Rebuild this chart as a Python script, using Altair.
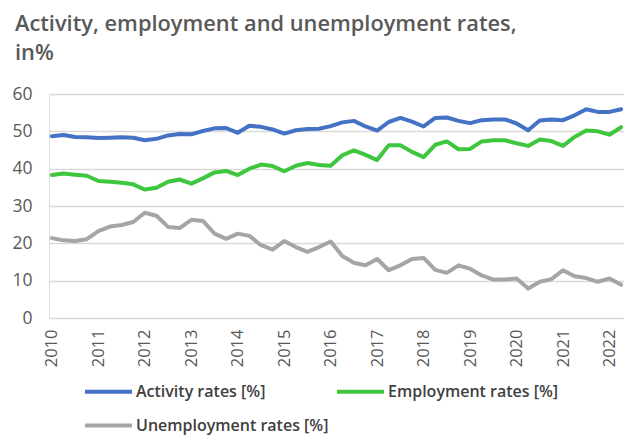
import altair as alt
import pandas as pd

quarters = [
    "2010 Q1", "2010 Q2", "2010 Q3", "2010 Q4",
    "2011 Q1", "2011 Q2", "2011 Q3", "2011 Q4",
    "2012 Q1", "2012 Q2", "2012 Q3", "2012 Q4",
    "2013 Q1", "2013 Q2", "2013 Q3", "2013 Q4",
    "2014 Q1", "2014 Q2", "2014 Q3", "2014 Q4",
    "2015 Q1", "2015 Q2", "2015 Q3", "2015 Q4",
    "2016 Q1", "2016 Q2", "2016 Q3", "2016 Q4",
    "2017 Q1", "2017 Q2", "2017 Q3", "2017 Q4",
    "2018 Q1", "2018 Q2", "2018 Q3", "2018 Q4",
    "2019 Q1", "2019 Q2", "2019 Q3", "2019 Q4",
    "2020 Q1", "2020 Q2", "2020 Q3", "2020 Q4",
    "2021 Q1", "2021 Q2", "2021 Q3", "2021 Q4",
    "2022 Q1", "2022 Q2",
]

activity = [
    48.7, 49.0, 48.5, 48.4, 48.2, 48.3, 48.4, 48.3, 47.6, 48.0,
    48.9, 49.3, 49.2, 50.1, 50.8, 50.9, 49.6, 51.5, 51.2, 50.5,
    49.4, 50.3, 50.6, 50.7, 51.4, 52.4, 52.8, 51.3, 50.2, 52.5,
    53.6, 52.6, 51.3, 53.6, 53.7, 52.8, 52.2, 53.0, 53.2, 53.2,
    52.1, 50.3, 52.9, 53.2, 53.0, 54.3, 55.9, 55.2, 55.2, 55.9,
]

employment = [
    38.3, 38.7, 38.4, 38.1, 36.7, 36.5, 36.2, 35.8, 34.4, 34.9,
    36.5, 37.1, 36.0, 37.4, 39.0, 39.4, 38.3, 40.0, 41.1, 40.7,
    39.3, 40.8, 41.5, 41.0, 40.8, 43.6, 44.9, 43.7, 42.3, 46.3,
    46.3, 44.5, 43.1, 46.4, 47.3, 45.2, 45.3, 47.3, 47.6, 47.6,
    46.8, 46.1, 47.8, 47.4, 46.1, 48.5, 50.2, 50.0, 49.1, 51.1,
]

unemployment = [
    21.4, 20.8, 20.6, 21.1, 23.3, 24.5, 24.9, 25.7, 28.2, 27.4,
    24.4, 24.1, 26.3, 26.0, 22.6, 21.2, 22.6, 22.0, 19.5, 18.3,
    20.6, 19.0, 17.7, 19.0, 20.5, 16.6, 14.8, 14.1, 15.8, 12.8,
    14.1, 15.8, 16.1, 12.9, 12.1, 14.1, 13.2, 11.4, 10.3, 10.3,
    10.6, 7.9, 9.7, 10.4, 12.8, 11.2, 10.7, 9.7, 10.6, 8.9,
]

series_names = ["Activity rates [%]", "Employment rates [%]", "Unemployment rates [%]"]
series_colors = ["#4472C4", "#3EC63E", "#A5A5A5"]
y_ticks = [0, 10, 20, 30, 40, 50, 60]
title_lines = ["Activity, employment and unemployment rates,", "in%"]

rows = []
for name, vals in zip(series_names, [activity, employment, unemployment]):
    for q, v in zip(quarters, vals):
        rows.append({"quarter": q, "series": name, "value": v})
df = pd.DataFrame(rows)

chart = (
    alt.Chart(df)
    .mark_line(strokeWidth=4, strokeCap="round", strokeJoin="round")
    .encode(
        x=alt.X(
            "quarter:O",
            sort=quarters,
            scale=alt.Scale(type="point", padding=0.25),
            axis=alt.Axis(
                title=None,
                labelExpr="indexof(datum.value, 'Q1') >= 0 ? slice(datum.value, 0, 4) : ''",
                labelAngle=270,
                labelAlign="right",
                labelBaseline="middle",
                labelFont="Open Sans",
                labelFontSize=16.5,
                labelColor="#595959",
                labelPadding=11,
                ticks=False,
                domain=False,
                grid=False,
                labelOverlap=False,
            ),
        ),
        y=alt.Y(
            "value:Q",
            scale=alt.Scale(domain=[0, 60], nice=False),
            axis=alt.Axis(
                title=None,
                values=y_ticks,
                labelFont="Open Sans",
                labelFontSize=17.5,
                labelColor="#595959",
                labelPadding=17,
                ticks=False,
                domain=False,
                gridColor="#D9D9D9",
                gridWidth=1.5,
            ),
        ),
        color=alt.Color(
            "series:N",
            sort=series_names,
            scale=alt.Scale(domain=series_names, range=series_colors),
            legend=alt.Legend(
                title=None,
                orient="none",
                legendX=34,
                legendY=272,
                columns=2,
                direction="horizontal",
                symbolType="stroke",
                symbolSize=2209,
                symbolStrokeWidth=4,
                labelFont="Open Sans",
                labelFontSize=16,
                labelFontWeight=600,
                labelColor="#404040",
                labelOffset=2,
                columnPadding=0,
                rowPadding=-24,
                labelLimit=300,
            ),
        ),
    )
    .properties(
        width=575,
        height=224,
        autosize=alt.AutoSizeParams(type="none"),
        padding={"left": 41, "top": 86, "right": 0, "bottom": 117},
        title=alt.TitleParams(
            text=title_lines,
            anchor="start",
            frame="group",
            font="Open Sans",
            fontSize=21.8,
            fontWeight=600,
            color="#595959",
            lineHeight=29,
            dx=-34,
            offset=20,
        ),
    )
    .configure_view(stroke=None)
    .configure(background="white")
)

chart.save("out.html", embed_options={"renderer": "svg", "actions": False})
